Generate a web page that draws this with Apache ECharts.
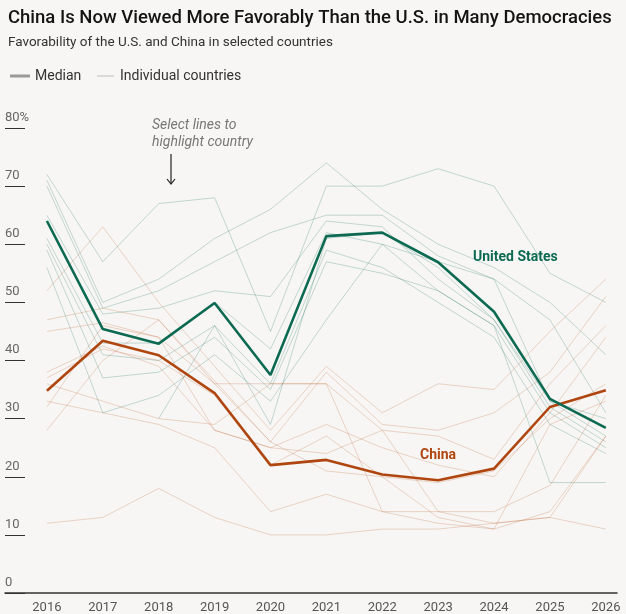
<!DOCTYPE html>
<html>
<head>
<meta charset="utf-8">
<script src="https://cdn.jsdelivr.net/npm/echarts@6/dist/echarts.min.js"></script>
<style>
  html, body { margin: 0; padding: 0; background: #f7f6f4; }
  #chart { width: 626px; height: 614px; }
</style>
</head>
<body>
<div id="chart"></div>
<script>
const years = [2016, 2017, 2018, 2019, 2020, 2021, 2022, 2023, 2024, 2025, 2026]
const yTicks = [0, 10, 20, 30, 40, 50, 60, 70, 80]

// medians
const usMedian = [64, 45.4, 42.9, 49.9, 37.5, 61.4, 62, 56.9, 48.4, 33.4, 28.4]
const chinaMedian = [34.8, 43.4, 40.9, 34.4, 22, 22.9, 20.4, 19.4, 21.4, 32, 34.9]

// individual countries, US favorability
const usCountries = [
  [72, 57, 67, 68, 45, 70, 70, 73, 70, 55, 50],
  [71, 50, 54, 61, 66, 74, 66, 60, 56, 50, 41],
  [70, 49, 52, 57, 62, 65, 65, 58, 54, 47, 31],
  [65, 48, 49, 52, 51, 64, 63, 54, 47, 33, 27],
  [61, 43, 43, 50, 42, 62, 60, 52, 46, 31, 25],
  [60, 41, 40, 46, 36, 59, 56, 50, 44, 29, 24],
  [59, 37, 38, 44, 35, 57, 55, 52, 46, 19, 19],
  [56, 31, 34, 41, 33, 47, 60, 57, 54, 33, 30],
  [null, null, 30, 46, 29, 61, 62, 56, 47, 32, 26]
]

// individual countries, China favorability
const chinaCountries = [
  [12, 13, 18, 13, 10, 10, 11, 11, 12, 13, 11],
  [52, 63, 50, 39, 28, 39, 31, 36, 35, 45, 54],
  [47, 49, 47, 36.5, 26, 38, 29, 28, 31, 38, 51],
  [45, 46.5, 44, 36, 36, 36, 28, 27, 23, 36, 46],
  [38, 42.5, 39, 28, 25, 29, 25, 22, 20, 31, 44],
  [37, 42, 40, 34, 22, 27, 20, 19, 21, 30, 36],
  [33, 31, 29, 25, 14, 17, 14, 14, 14, 18.5, 34],
  [32, 46, 44, 28, 25, 24, 28, 14, 12, 13, 27],
  [28, 40, 47, 36, 26, 21, 20, 13, 11, 29, 33],
  [36, 33, 30, 29, 36, 36, 14, 12, 11, 14, 27]
]

const US_COLOR = '#0d6a52'
const CN_COLOR = '#b0460f'
const FONT = 'Roboto, "Liberation Sans", sans-serif'

const pairs = (vals) => years.map((y, i) => [y, vals[i]])

const thinLine = (vals, color) => ({
  type: 'line',
  data: pairs(vals),
  symbol: 'none',
  silent: true,
  connectNulls: false,
  lineStyle: { color: color, width: 1 },
  z: 1
})

const series = []
usCountries.forEach(v => series.push(thinLine(v, 'rgba(20,110,90,0.24)')))
chinaCountries.forEach(v => series.push(thinLine(v, 'rgba(190,90,40,0.24)')))
series.push({
  type: 'line', name: 'China', data: pairs(chinaMedian), symbol: 'none',
  lineStyle: { color: CN_COLOR, width: 2.6 }, z: 3
})
series.push({
  type: 'line', name: 'United States', data: pairs(usMedian), symbol: 'none',
  lineStyle: { color: US_COLOR, width: 2.6 }, z: 4
})

const chart = echarts.init(document.getElementById('chart'))
chart.setOption({
  backgroundColor: '#f7f6f4',
  animation: false,
  textStyle: { fontFamily: FONT },
  title: {
    text: 'China Is Now Viewed More Favorably Than the U.S. in Many Democracies',
    subtext: 'Favorability of the U.S. and China in selected countries',
    left: 3, top: 4, itemGap: 8,
    textStyle: { fontSize: 18.5, fontWeight: 500, color: '#141414', fontFamily: FONT },
    subtextStyle: { fontSize: 13.5, color: '#333', fontFamily: FONT }
  },
  grid: { left: 5, right: 9, top: 128, bottom: 21 },
  xAxis: {
    type: 'value',
    min: 2015.25,
    max: 2026.2,
    axisLine: { show: true, lineStyle: { color: '#333', width: 1.5 } },
    axisTick: { show: false },
    splitLine: { show: false },
    axisLabel: {
      customValues: years,
      color: '#555', fontSize: 13, margin: 8,
      formatter: v => String(v)
    }
  },
  yAxis: {
    type: 'value',
    min: 0, max: 80, interval: 10,
    axisLine: { show: false },
    splitLine: { show: false },
    axisTick: { show: true, inside: true, length: 20, lineStyle: { color: '#333', width: 1 } },
    axisLabel: {
      inside: true, margin: 0, align: 'left', verticalAlign: 'bottom',
      padding: [0, 0, 4, 0],
      color: '#666', fontSize: 13,
      formatter: v => v === yTicks[yTicks.length - 1] ? v + '%' : String(v)
    }
  },
  graphic: [
    { type: 'rect', shape: { x: 10, y: 74.5, width: 20, height: 3 }, style: { fill: '#9a9a9a' } },
    { type: 'text', x: 35, y: 76, style: { text: 'Median', fontSize: 14, fill: '#333', verticalAlign: 'middle', fontFamily: FONT } },
    { type: 'line', shape: { x1: 97, y1: 76, x2: 114, y2: 76 }, style: { stroke: '#bdbdbd', lineWidth: 1 } },
    { type: 'text', x: 120, y: 76, style: { text: 'Individual countries', fontSize: 14, fill: '#333', verticalAlign: 'middle', fontFamily: FONT } },
    { type: 'text', x: 152, y: 125, style: { text: 'Select lines to', fontSize: 14, fontStyle: 'italic', fill: '#777', verticalAlign: 'middle', fontFamily: FONT } },
    { type: 'text', x: 152, y: 142, style: { text: 'highlight country', fontSize: 14, fontStyle: 'italic', fill: '#777', verticalAlign: 'middle', fontFamily: FONT } },
    { type: 'line', shape: { x1: 171, y1: 154, x2: 171, y2: 184 }, style: { stroke: '#222', lineWidth: 1.2 } },
    { type: 'polyline', shape: { points: [[167, 179], [171, 184], [175, 179]] }, style: { stroke: '#222', lineWidth: 1.2, fill: null } },
    { type: 'text', x: 473, y: 257, style: { text: 'United States', fontSize: 14, fontWeight: 'bold', fill: US_COLOR, verticalAlign: 'middle', fontFamily: FONT } },
    { type: 'text', x: 420, y: 455, style: { text: 'China', fontSize: 14, fontWeight: 'bold', fill: CN_COLOR, verticalAlign: 'middle', fontFamily: FONT } }
  ],
  series: series
})
</script>
</body>
</html>
